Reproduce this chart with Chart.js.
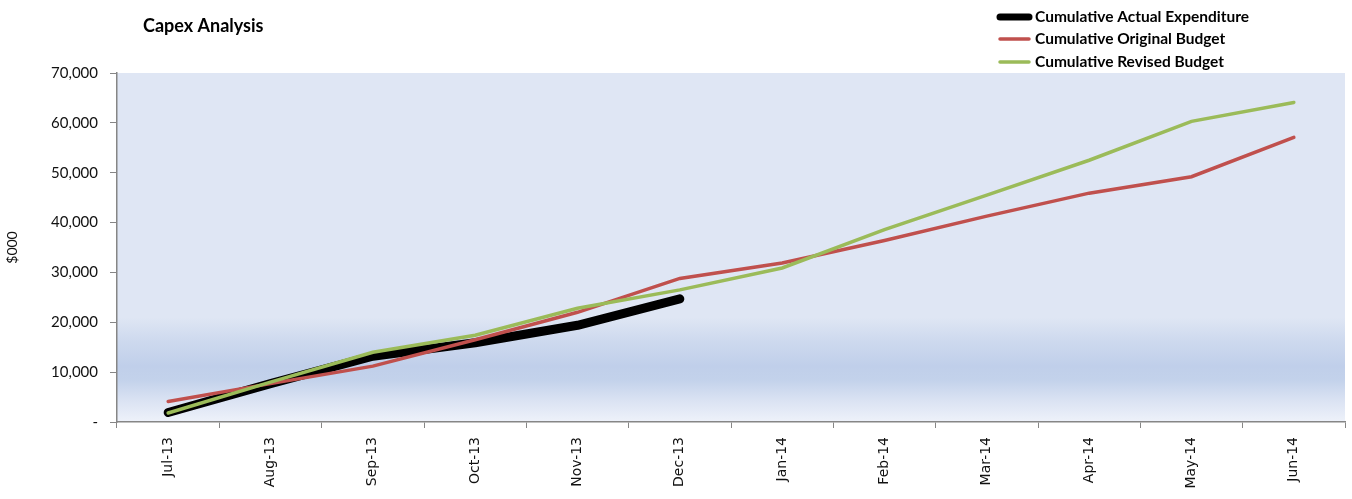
<!DOCTYPE html>
<html>
<head>
<meta charset="utf-8">
<script src="https://cdn.jsdelivr.net/npm/chart.js@4"></script>
<style>
  html, body { margin: 0; padding: 0; background: #fff; }
  #wrap { width: 1352px; height: 499px; position: relative; }
</style>
</head>
<body>
<div id="wrap"><canvas id="capex" width="1352" height="499"></canvas></div>
<script>
var sTitle = 'Capex Analysis';
var aMonths = ['Jul-13', 'Aug-13', 'Sep-13', 'Oct-13', 'Nov-13', 'Dec-13',
               'Jan-14', 'Feb-14', 'Mar-14', 'Apr-14', 'May-14', 'Jun-14'];
var aActual = [1900, 7700, 13200, 15900, 19400, 24700];
var aOriginal = [4100, 7700, 11200, 16500, 22000, 28800, 31900, 36400, 41300, 45900, 49200, 57100];
var aRevised = [1800, 8000, 14000, 17400, 22800, 26500, 30900, 38600, 45500, 52500, 60300, 64100];
var aSeriesNames = ['Cumulative Actual Expenditure', 'Cumulative Original Budget', 'Cumulative Revised Budget'];

var sAxisGrey = '#868686';

// plot area fill: pale blue with a darker band near the bottom
var plotBackground = {
    id: 'plotBackground',
    beforeDraw: function (chart) {
        var a = chart.chartArea;
        var ctx = chart.ctx;
        var g = ctx.createLinearGradient(0, a.top, 0, a.bottom);
        g.addColorStop(0, '#dfe6f4');
        g.addColorStop(0.70, '#dfe6f4');
        g.addColorStop(0.77, '#cdd9ee');
        g.addColorStop(0.84, '#c0cfea');
        g.addColorStop(0.88, '#c3d2eb');
        g.addColorStop(0.94, '#dbe3f3');
        g.addColorStop(1, '#eef2fa');
        ctx.save();
        ctx.fillStyle = g;
        ctx.fillRect(a.left, a.top, a.right - a.left, a.bottom - a.top);
        ctx.restore();
    }
};

// title and legend in the top strip
var header = {
    id: 'header',
    afterDraw: function (chart) {
        var ctx = chart.ctx;
        ctx.save();
        ctx.fillStyle = '#000';
        ctx.textBaseline = 'middle';
        ctx.textAlign = 'left';
        ctx.font = 'bold 18px Lato';
        ctx.fillText(sTitle, 143, 26);

        var aRows = [17, 39, 62];
        ctx.font = 'bold 15.5px Lato';
        ctx.lineCap = 'round';
        for (var i = 0; i < aSeriesNames.length; i++) {
            var ds = chart.data.datasets.filter(function (d) { return d.label === aSeriesNames[i]; })[0];
            ctx.strokeStyle = ds.borderColor;
            ctx.lineWidth = i === 0 ? 7 : 3.5;
            ctx.beginPath();
            ctx.moveTo(1000, aRows[i]);
            ctx.lineTo(1029, aRows[i]);
            ctx.stroke();
            ctx.fillText(aSeriesNames[i], 1035, aRows[i]);
        }
        ctx.restore();
    }
};

var oChart = new Chart(document.getElementById('capex').getContext('2d'), {
    type: 'line',
    data: {
        labels: aMonths,
        datasets: [
            {
                label: aSeriesNames[0],
                data: aActual,
                borderColor: '#000000',
                borderWidth: 9,
                borderCapStyle: 'round',
                borderJoinStyle: 'round',
                pointRadius: 0,
                tension: 0,
                order: 3
            },
            {
                label: aSeriesNames[1],
                data: aOriginal,
                borderColor: '#c0504d',
                borderWidth: 3.5,
                borderCapStyle: 'round',
                pointRadius: 0,
                tension: 0,
                order: 2
            },
            {
                label: aSeriesNames[2],
                data: aRevised,
                borderColor: '#9bbb59',
                borderWidth: 3.5,
                borderCapStyle: 'round',
                pointRadius: 0,
                tension: 0,
                order: 1
            }
        ]
    },
    options: {
        responsive: false,
        animation: false,
        layout: { padding: { top: 73, right: 7, left: 0, bottom: 0 } },
        plugins: {
            legend: { display: false },
            title: { display: false },
            tooltip: { enabled: false }
        },
        scales: {
            x: {
                offset: true,
                grid: {
                    offset: true,
                    drawOnChartArea: false,
                    color: sAxisGrey,
                    tickLength: 6
                },
                border: { color: sAxisGrey, width: 1.5 },
                ticks: {
                    minRotation: 90,
                    maxRotation: 90,
                    padding: 9,
                    color: '#111',
                    font: { family: 'DejaVu Sans', size: 14 }
                },
                afterFit: function (scale) { scale.height = 77; }
            },
            y: {
                min: 0,
                max: 70000,
                grid: {
                    drawOnChartArea: false,
                    color: sAxisGrey,
                    tickLength: 7
                },
                border: { color: sAxisGrey, width: 1.5 },
                ticks: {
                    stepSize: 10000,
                    padding: 12,
                    color: '#111',
                    font: { family: 'Lato', size: 15 },
                    callback: function (v) {
                        return v === 0 ? '-' : v.toLocaleString('en-US');
                    }
                },
                title: {
                    display: true,
                    text: '$000',
                    color: '#111',
                    padding: { top: 4, bottom: 0 },
                    font: { family: 'Lato', size: 14 }
                },
                afterFit: function (scale) { scale.width = 117; }
            }
        }
    },
    plugins: [plotBackground, header]
});
</script>
</body>
</html>
